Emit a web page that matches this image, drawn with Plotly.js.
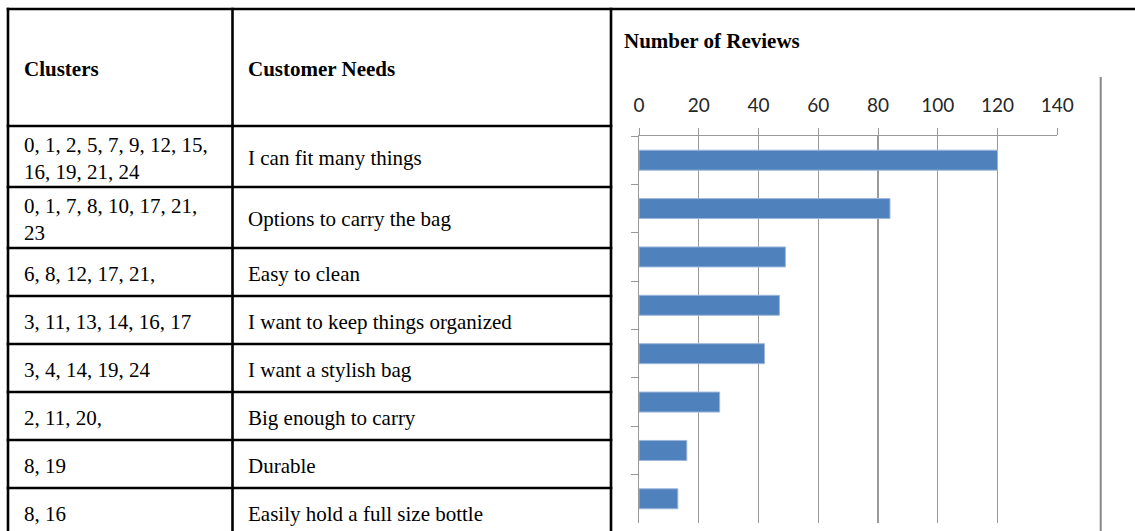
<!DOCTYPE html>
<html>
<head>
<meta charset="utf-8">
<script src="https://cdn.plot.ly/plotly-3.0.1.min.js"></script>
<style>
html,body{margin:0;padding:0;background:#fff;}
#chart{width:1135px;height:531px;}
</style>
</head>
<body>
<div id="chart"></div>
<script>
// ---- data ----
const clusters = [
  "0, 1, 2, 5, 7, 9, 12, 15,<br>16, 19, 21, 24",
  "0, 1, 7, 8, 10, 17, 21,<br>23",
  "6, 8, 12, 17, 21,",
  "3, 11, 13, 14, 16, 17",
  "3, 4, 14, 19, 24",
  "2, 11, 20,",
  "8, 19",
  "8, 16"
];
const needs = [
  "I can fit many things",
  "Options to carry the bag",
  "Easy to clean",
  "I want to keep things organized",
  "I want a stylish bag",
  "Big enough to carry",
  "Durable",
  "Easily hold a full size bottle"
];
const reviews = [120, 84, 49, 47, 42, 27, 16, 13];
const headerClusters = "Clusters";
const headerNeeds = "Customer Needs";
const chartTitle = "Number of Reviews";
const xTicks = [0, 20, 40, 60, 80, 100, 120, 140];

// ---- layout helpers ----
const W = 1135, H = 531;
const px = x => x / W;
const py = y => 1 - y / H;
const rowEdges = [9, 126, 187, 248, 296, 344, 392, 440, 488, 536];
const colX = [8, 232.5, 611];
const textX = [22, 246];
const serif = "Liberation Serif, Times New Roman, serif";

const shapes = [];
const lineStyle = {color: "#000", width: 2.6};
// top border
shapes.push({type: "line", xref: "paper", yref: "paper", x0: px(colX[0] - 1.3), x1: px(W + 5), y0: py(rowEdges[0]), y1: py(rowEdges[0]), line: lineStyle});
// horizontal row lines inside the table
for (let i = 1; i < rowEdges.length - 1; i++) {
  shapes.push({type: "line", xref: "paper", yref: "paper", x0: px(colX[0] - 1.3), x1: px(colX[2] + 1.3), y0: py(rowEdges[i]), y1: py(rowEdges[i]), line: lineStyle});
}
// vertical lines
colX.forEach(x => {
  shapes.push({type: "line", xref: "paper", yref: "paper", x0: px(x), x1: px(x), y0: py(rowEdges[0] - 1.3), y1: py(H + 5), line: lineStyle});
});
// chart area right border (grey)
shapes.push({type: "line", xref: "paper", yref: "paper", x0: px(1100.7), x1: px(1100.7), y0: py(77), y1: py(H + 5), line: {color: "#868686", width: 2}});

const annotations = [];
const hdrY = (rowEdges[0] + rowEdges[1]) / 2 + 1;
annotations.push({xref: "paper", yref: "paper", x: px(textX[0]), y: py(hdrY), xanchor: "left", yanchor: "middle", showarrow: false, text: "<b>" + headerClusters + "</b>", font: {family: serif, size: 21, color: "#000"}});
annotations.push({xref: "paper", yref: "paper", x: px(textX[1]), y: py(hdrY), xanchor: "left", yanchor: "middle", showarrow: false, text: "<b>" + headerNeeds + "</b>", font: {family: serif, size: 21, color: "#000"}});
for (let i = 0; i < needs.length; i++) {
  const cy = (rowEdges[i + 1] + rowEdges[i + 2]) / 2 + 1.5;
  annotations.push({xref: "paper", yref: "paper", x: px(textX[0]), y: py(cy), xanchor: "left", yanchor: "middle", align: "left", showarrow: false, text: clusters[i], font: {family: serif, size: 21, color: "#000"}});
  annotations.push({xref: "paper", yref: "paper", x: px(textX[1]), y: py(cy), xanchor: "left", yanchor: "middle", align: "left", showarrow: false, text: needs[i], font: {family: serif, size: 21, color: "#000"}});
}

const trace = {
  type: "bar",
  orientation: "h",
  x: reviews,
  y: needs,
  width: 0.413,
  marker: {color: "#4F81BD", line: {color: "#9DB7DB", width: 1}},
  hoverinfo: "x+y"
};

const layout = {
  width: W, height: H,
  margin: {l: 0, r: 0, t: 0, b: 0},
  paper_bgcolor: "#fff", plot_bgcolor: "rgba(0,0,0,0)",
  showlegend: false,
  title: {
    text: "<b>" + chartTitle + "</b>",
    x: px(624), xanchor: "left", xref: "paper",
    y: py(41), yanchor: "middle", yref: "paper",
    font: {family: serif, size: 21, color: "#000"}
  },
  xaxis: {
    domain: [px(639), px(1057.3)],
    range: [0, 140],
    side: "top",
    tickvals: xTicks,
    ticktext: xTicks.map(String),
    ticks: "outside", ticklen: 7, tickcolor: "#999", tickwidth: 1,
    showgrid: true, gridcolor: "#9a9a9a", gridwidth: 1.2,
    showline: true, linecolor: "#999", linewidth: 1,
    zeroline: false,
    ticklabelstandoff: 8,
    tickfont: {family: "Lato, Carlito, Calibri, sans-serif", size: 19, color: "#262626"},
    fixedrange: true
  },
  yaxis: {
    domain: [py(523), py(136)],
    type: "category",
    categoryorder: "array", categoryarray: needs,
    range: [7.5, -0.5],
    showticklabels: false,
    ticks: "outside", ticklen: 7, tickcolor: "#999", tickwidth: 1,
    tickson: "boundaries",
    showgrid: false,
    showline: true, linecolor: "#999", linewidth: 1,
    zeroline: false,
    fixedrange: true
  },
  shapes: shapes,
  annotations: annotations
};

Plotly.newPlot("chart", [trace], layout, {displayModeBar: false, staticPlot: true});
</script>
</body>
</html>
